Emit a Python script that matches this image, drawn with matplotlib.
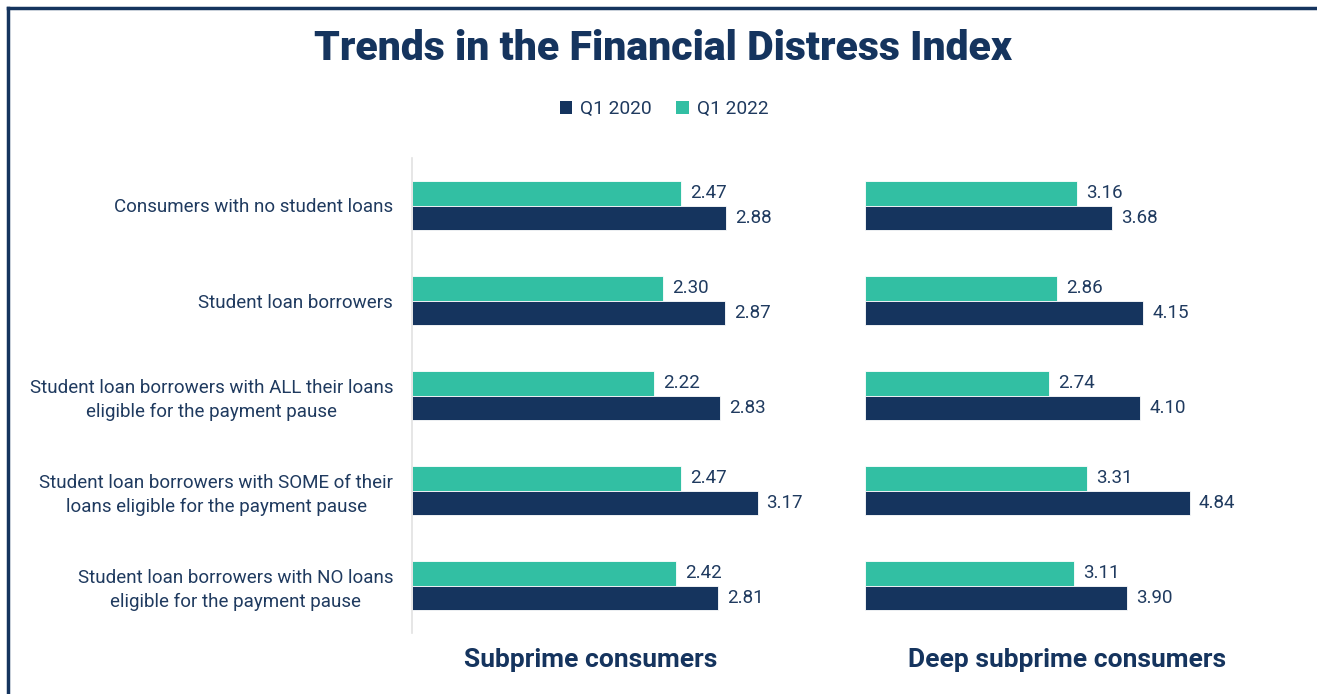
import matplotlib.pyplot as plt
from matplotlib.patches import Patch
from matplotlib.lines import Line2D

plt.rcParams['font.family'] = ['Roboto', 'DejaVu Sans']

categories = [
    "Consumers with no student loans",
    "Student loan borrowers",
    "Student loan borrowers with ALL their loans\neligible for the payment pause",
    "Student loan borrowers with SOME of their\nloans eligible for the payment pause",
    "Student loan borrowers with NO loans\neligible for the payment pause",
]
subprime_2020 = [2.88, 2.87, 2.83, 3.17, 2.81]
subprime_2022 = [2.47, 2.30, 2.22, 2.47, 2.42]
deep_2020 = [3.68, 4.15, 4.10, 4.84, 3.90]
deep_2022 = [3.16, 2.86, 2.74, 3.31, 3.11]
series_names = ["Q1 2020", "Q1 2022"]

navy = '#15345e'
teal = '#32bfa3'
txt = '#1f3a5f'

W, H = 1317, 694
fig = plt.figure(figsize=(W / 100, H / 100), dpi=100)

# frame (left and top edges)
fig.add_artist(Line2D([8 / W, 8 / W], [0, 1 - 8 / H], color=navy, lw=2.5, transform=fig.transFigure))
fig.add_artist(Line2D([8 / W, 1], [1 - 8 / H, 1 - 8 / H], color=navy, lw=2.5, transform=fig.transFigure))

def panel(left_px, width_px, px_per_unit, v2020, v2022, show_labels):
    ax = fig.add_axes([left_px / W, (H - 633) / H, width_px / W, 475 / H])
    ys = list(range(len(categories)))
    h = 0.263
    ax.barh([y - h / 2 for y in ys], v2022, height=h, color=teal, edgecolor='white', linewidth=0.6)
    ax.barh([y + h / 2 for y in ys], v2020, height=h, color=navy, edgecolor='white', linewidth=0.6)
    for y, a, b in zip(ys, v2022, v2020):
        ax.annotate(f"{a:.2f}", (a, y - h / 2), xytext=(6.5, 0), textcoords='offset points',
                    va='center', ha='left', fontsize=13.5, color=txt)
        ax.annotate(f"{b:.2f}", (b, y + h / 2), xytext=(6.5, 0), textcoords='offset points',
                    va='center', ha='left', fontsize=13.5, color=txt)
    ax.set_xlim(0, width_px / px_per_unit)
    ax.set_ylim(len(categories) - 0.5, -0.5)
    ax.set_xticks([])
    for s in ['top', 'right', 'bottom']:
        ax.spines[s].set_visible(False)
    if show_labels:
        ax.spines['left'].set_color('#e2e2e2')
        ax.spines['left'].set_linewidth(1.2)
        ax.set_yticks(ys)
        ax.set_yticklabels(categories, fontsize=13.5, color=txt, linespacing=1.4)
        for lbl in ax.get_yticklabels():
            lbl.set_multialignment('center')
        ax.tick_params(axis='y', length=0, pad=13.5)
    else:
        ax.spines['left'].set_visible(False)
        ax.set_yticks([])
    return ax

panel(412, 358, 109.0, subprime_2020, subprime_2022, True)
panel(865, 404, 67.1, deep_2020, deep_2022, False)

fig.text(591 / W, 1 - 660 / H, "Subprime consumers", ha='center', va='center',
         fontsize=19, fontweight='bold', color=navy)
fig.text(1067 / W, 1 - 660 / H, "Deep subprime consumers", ha='center', va='center',
         fontsize=19, fontweight='bold', color=navy)

fig.text(663 / W, 1 - 49 / H, "Trends in the Financial Distress Index", ha='center', va='center',
         fontsize=29.5, fontweight='black', color=navy)

handles = [Patch(facecolor=navy, label=series_names[0]), Patch(facecolor=teal, label=series_names[1])]
leg = fig.legend(handles=handles, loc='center', bbox_to_anchor=(664 / W, 1 - 109 / H), ncol=2,
                 frameon=False, fontsize=13.8, handlelength=0.65, handleheight=0.65,
                 handletextpad=0.4, columnspacing=1.3)
for t in leg.get_texts():
    t.set_color(txt)

fig.savefig('out.png', dpi=100)
